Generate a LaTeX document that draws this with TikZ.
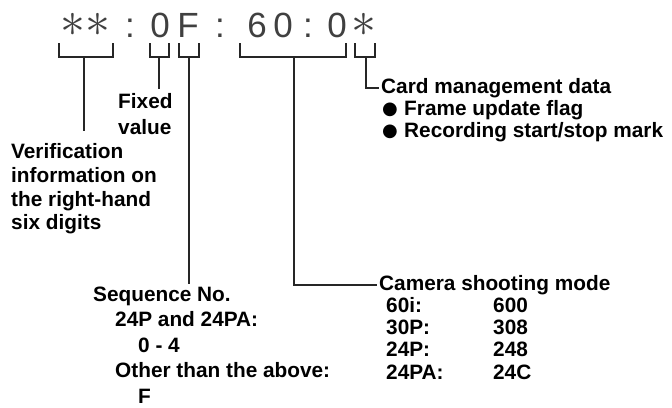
\documentclass[tikz,border=0pt]{standalone}
\usepackage{fontspec}
\setmainfont{Liberation Sans}
\newfontfamily\bulletfont{DejaVu Sans}
\usetikzlibrary{calc}

\newcommand\blt{\makebox[22pt][l]{\raisebox{0.5pt}{\bulletfont\fontsize{18}{18}\selectfont ●}}}

\begin{document}
\begin{tikzpicture}[
    x=1pt, y=-1pt,
    glyph/.style={font=\fontsize{35}{35}\selectfont, text=black!75, inner sep=0pt, anchor=base},
    star/.style={font=\fontsize{20}{20}\selectfont, scale=2.4, text=black!75, inner sep=0pt},
    lbl/.style={font=\fontsize{20.8}{25.5}\selectfont\bfseries, inner sep=0pt, align=left},
    brk/.style={line width=2pt, black!85}
]
    \useasboundingbox (0,0) rectangle (672,407);

    % the code itself
    \foreach \c/\x [count=\i] in {:/130, 0/160, F/188, :/220, 6/257, 0/283, :/308, 0/337}
        \node[glyph] (g\i) at (\x,37) {\c};
    \foreach \x [count=\i] in {73,98,364}
        \node[star] (s\i) at (\x,25) {$\ast$};

    % brackets under the code
    \draw[brk] (59,43) |- (113,57) -- (113,43);
    \draw[brk] (150,43) |- (169,57) -- (169,43);
    \draw[brk] (179,43) |- (199,57) -- (199,43);
    \draw[brk] (240,43) |- (346,57) -- (346,43);
    \draw[brk] (355,43) |- (375,57) -- (375,43);
    \coordinate (b1) at (84,57);
    \coordinate (b2) at (159,57);
    \coordinate (b3) at (189,57);
    \coordinate (b4) at (294,57);
    \coordinate (b5) at (366,57);

    % labels
    \node[lbl, anchor=north west] (fixed) at (118,93.5) {Fixed\\value};
    \node[lbl, anchor=north west, font=\fontsize{20.8}{23.7}\selectfont\bfseries] (verif) at (11,143.5) {Verification\\information on\\the right-hand\\six digits};
    \node[lbl, anchor=north west] (seq) at (93,286.5) {Sequence No.\\\hspace*{22pt}24P and 24PA:\\\hspace*{45pt}0 - 4\\\hspace*{22pt}Other than the above:\\\hspace*{45pt}F};
    \node[lbl, anchor=base west] (camera) at (379,290) {Camera shooting mode};
    \node[lbl, anchor=north west, font=\fontsize{20.8}{22.3}\selectfont\bfseries] (camrows) at (386,297) {\makebox[107pt][l]{60i:}600\\\makebox[107pt][l]{30P:}308\\\makebox[107pt][l]{24P:}248\\\makebox[107pt][l]{24PA:}24C};
    \node[lbl, anchor=base west] (card) at (381,93) {Card management data};
    \node[lbl, anchor=north west, font=\fontsize{20.8}{21.8}\selectfont\bfseries] (cardlist) at (382,100) {\blt Frame update flag\\\blt Recording start/stop mark};

    % stems
    \draw[brk, shorten >=13pt] (b1) -- (b1 |- verif.north);
    \draw[brk, shorten >=5pt] (b2) -- (b2 |- fixed.north);
    \draw[brk, shorten >=2.5pt] (b3) -- (b3 |- seq.north);
    \draw[brk, shorten >=2pt] (b4) |- (camera.west);
    \draw[brk, shorten >=2pt] (b5) |- (card.west);
\end{tikzpicture}
\end{document}
